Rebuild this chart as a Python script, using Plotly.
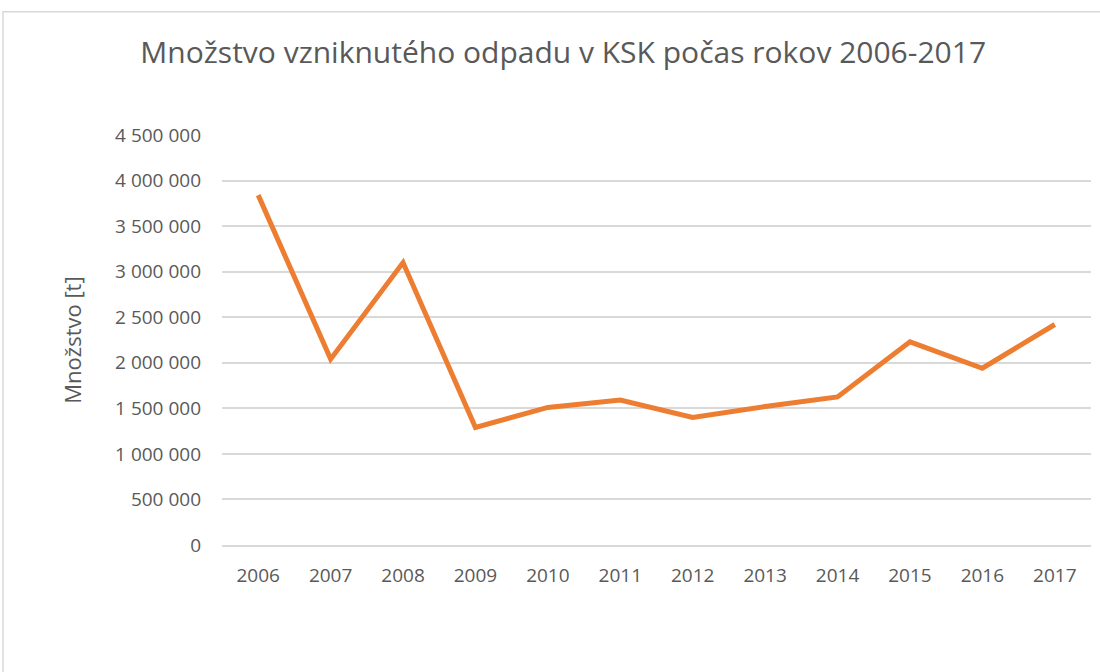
import plotly.graph_objects as go

# Annual waste generated in the Košice self-governing region (tonnes)
years = ["2006", "2007", "2008", "2009", "2010", "2011",
         "2012", "2013", "2014", "2015", "2016", "2017"]
amounts = [3840000, 2040000, 3100000, 1290000, 1510000, 1590000,
           1400000, 1520000, 1625000, 2230000, 1940000, 2420000]

y_ticks = [0, 500000, 1000000, 1500000, 2000000, 2500000,
           3000000, 3500000, 4000000, 4500000]

TEXT = "#595959"
GRID = "#d9d9d9"
FONT = "Open Sans"

fig = go.Figure(
    go.Scatter(
        x=years,
        y=amounts,
        mode="lines",
        line=dict(color="#ED7D31", width=5),
        hoverinfo="x+y",
    )
)

fig.update_layout(
    width=1100,
    height=672,
    paper_bgcolor="white",
    plot_bgcolor="white",
    separators=", ",
    showlegend=False,
    margin=dict(l=222, r=9, t=134.5, b=127),
    title=dict(
        text="Množstvo vzniknutého odpadu v KSK počas rokov 2006-2017",
        font=dict(family=FONT, size=30, color=TEXT),
        x=0.512, xanchor="center", xref="container",
        y=1 - 52 / 672, yanchor="middle", yref="container",
    ),
    font=dict(family=FONT, color=TEXT),
    shapes=[
        dict(type="rect", xref="paper", yref="paper",
             x0=-219 / 869, x1=1.1, y0=-0.5, y1=1 + (134.5 - 11) / 410.5,
             line=dict(color=GRID, width=1.5), fillcolor="rgba(0,0,0,0)",
             layer="below"),
    ],
)

fig.update_xaxes(
    type="category",
    range=[-0.5, len(years) - 0.5],
    showgrid=False,
    showline=True,
    linecolor=GRID,
    linewidth=1.5,
    ticks="",
    ticklabelstandoff=12,
    tickfont=dict(family=FONT, size=19, color=TEXT),
)

fig.update_yaxes(
    range=[0, 4500000],
    tickvals=y_ticks,
    tickformat=",d",
    showgrid=True,
    gridcolor=GRID,
    gridwidth=1.5,
    zeroline=False,
    showline=False,
    ticks="",
    ticklabelstandoff=20,
    tickfont=dict(family=FONT, size=19, color=TEXT),
    title=dict(text="Množstvo [t]", font=dict(family=FONT, size=22, color=TEXT),
               standoff=27),
)

fig.write_html("out.html")
